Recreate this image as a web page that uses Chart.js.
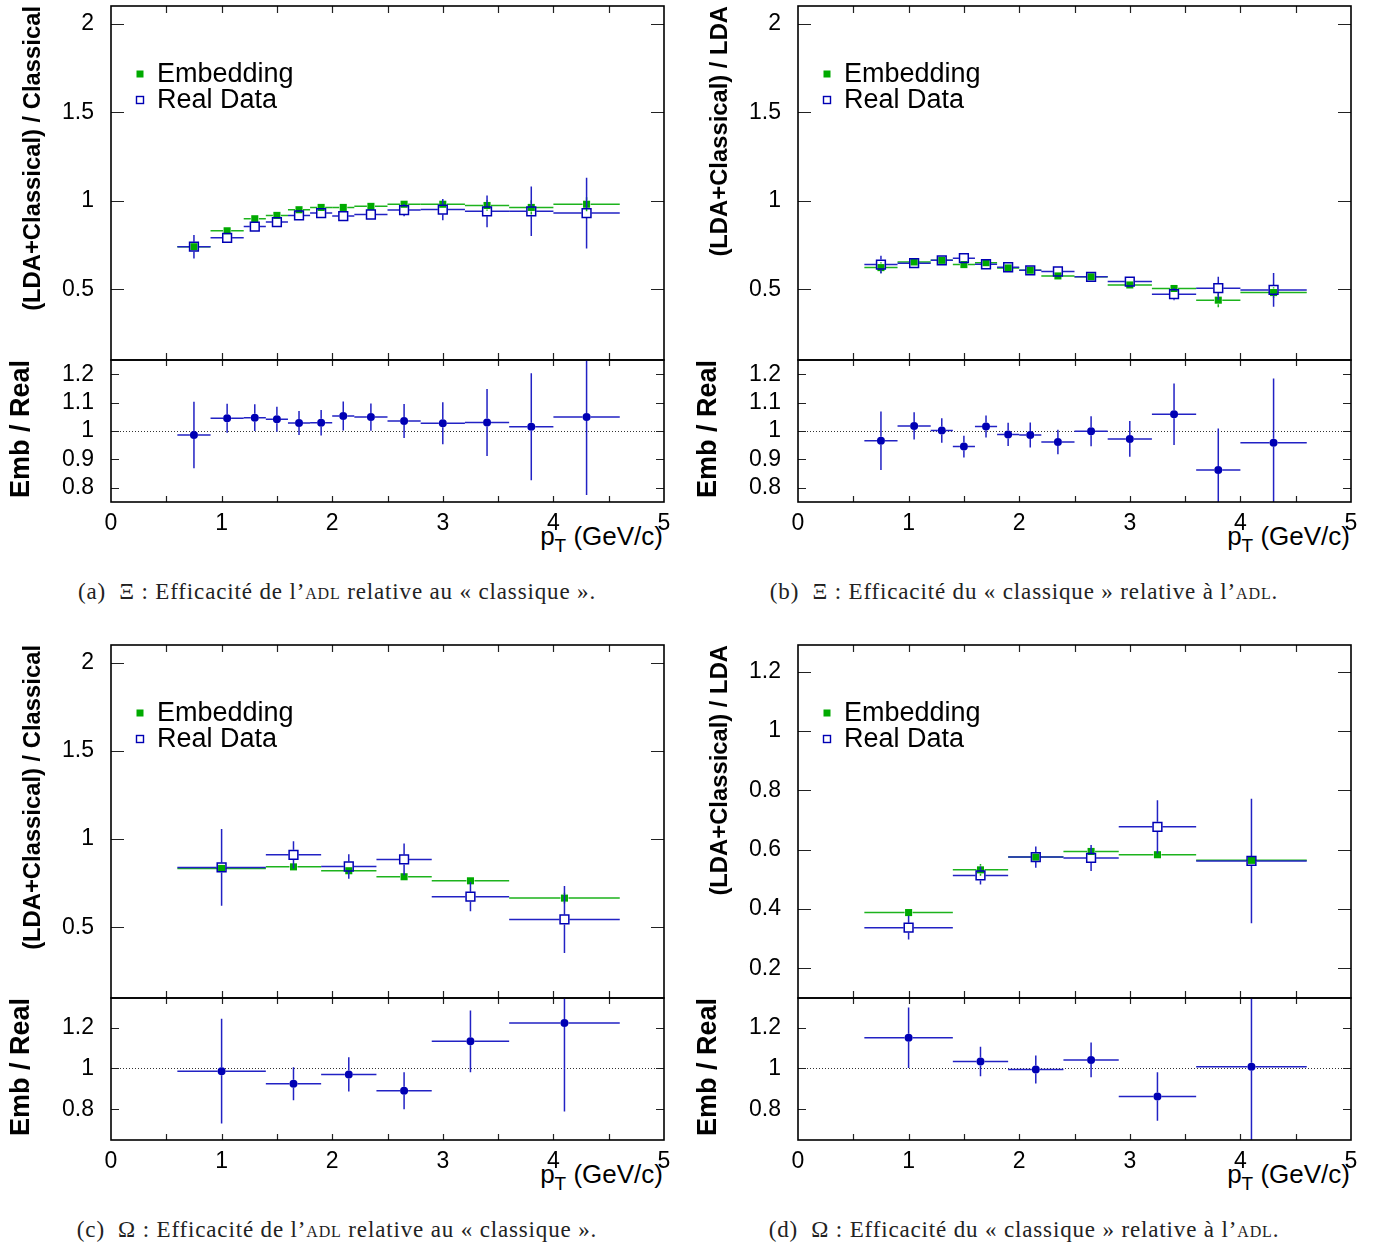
<!DOCTYPE html>
<html>
<head>
<meta charset="utf-8">
<script src="https://cdn.jsdelivr.net/npm/chart.js@4.4.1/dist/chart.umd.min.js"></script>
<style>
	body { margin: 0; background: #fff; width: 1378px; height: 1250px; position: relative; overflow: hidden; font-family: 'Liberation Sans', Arial, sans-serif; }
	canvas { position: absolute; }
	.xt { position: absolute; width: 200px; text-align: right; font-size: 26px; line-height: 26px; white-space: nowrap; color: #000; }
	.xt sub { font-size: 19px; line-height: 0; vertical-align: -7px; }
	.cap { position: absolute; width: 680px; text-align: center; font-family: 'Liberation Serif', 'DejaVu Serif', serif; font-size: 23px; letter-spacing: 0.85px; line-height: 25px; color: #222; white-space: nowrap; }
	.sc { font-variant: small-caps; }
</style>
</head>
<body>

<div class="xt" style="left:463px;top:523px;">p<sub>T</sub> (GeV/c)</div>
<div class="xt" style="left:1150px;top:523px;">p<sub>T</sub> (GeV/c)</div>
<div class="xt" style="left:463px;top:1161px;">p<sub>T</sub> (GeV/c)</div>
<div class="xt" style="left:1150px;top:1161px;">p<sub>T</sub> (GeV/c)</div>

<div class="cap" style="left:-3px;top:579px;">(a)&nbsp; Ξ : Efficacité de l’<span class="sc">adl</span> relative au «&nbsp;classique&nbsp;».</div>
<div class="cap" style="left:684px;top:579px;">(b)&nbsp; Ξ : Efficacité du «&nbsp;classique&nbsp;» relative à l’<span class="sc">adl</span>.</div>
<div class="cap" style="left:-3px;top:1217px;">(c)&nbsp; Ω : Efficacité de l’<span class="sc">adl</span> relative au «&nbsp;classique&nbsp;».</div>
<div class="cap" style="left:684px;top:1217px;">(d)&nbsp; Ω : Efficacité du «&nbsp;classique&nbsp;» relative à l’<span class="sc">adl</span>.</div>

<script>
// ---- data ----
// Xi pT bins (panels a, b)
const xiPt   = [0.75, 1.05, 1.30, 1.50, 1.70, 1.90, 2.10, 2.35, 2.65, 3.00, 3.40, 3.80, 4.30];
const xiLow  = [0.6, 0.9, 1.2, 1.4, 1.6, 1.8, 2.0, 2.2, 2.5, 2.8, 3.2, 3.6, 4.0];
const xiHigh = [0.9, 1.2, 1.4, 1.6, 1.8, 2.0, 2.2, 2.5, 2.8, 3.2, 3.6, 4.0, 4.6];

// Omega pT bins (panels c, d)
const omPt   = [1.00, 1.65, 2.15, 2.65, 3.25, 4.10];
const omLow  = [0.6, 1.4, 1.9, 2.4, 2.9, 3.6];
const omHigh = [1.4, 1.9, 2.4, 2.9, 3.6, 4.6];

// (a) Xi, (LDA+Classical)/Classical
const embA      = [0.74, 0.83, 0.898, 0.917, 0.949, 0.962, 0.962, 0.968, 0.98, 0.98, 0.973, 0.962, 0.98];
const embErrA   = [0.02, 0.012, 0.012, 0.01, 0.01, 0.01, 0.01, 0.012, 0.02, 0.02, 0.03, 0.04, 0.04];
const realA     = [0.74, 0.79, 0.854, 0.879, 0.917, 0.93, 0.913, 0.922, 0.947, 0.95, 0.94, 0.94, 0.93];
const realErrA  = [0.066, 0.02, 0.02, 0.02, 0.02, 0.02, 0.02, 0.02, 0.035, 0.06, 0.09, 0.14, 0.2];
const ratioA    = [0.986, 1.045, 1.047, 1.041, 1.028, 1.029, 1.053, 1.049, 1.035, 1.027, 1.030, 1.015, 1.049];
const ratioErrA = [0.117, 0.051, 0.047, 0.044, 0.042, 0.045, 0.051, 0.048, 0.06, 0.074, 0.118, 0.188, 0.274];

// (b) Xi, (LDA+Classical)/LDA
const embB      = [0.622, 0.654, 0.663, 0.639, 0.65, 0.62, 0.607, 0.575, 0.57, 0.524, 0.504, 0.438, 0.481];
const embErrB   = [0.03, 0.01, 0.01, 0.01, 0.01, 0.01, 0.01, 0.01, 0.01, 0.015, 0.02, 0.04, 0.03];
const realB     = [0.639, 0.647, 0.663, 0.675, 0.641, 0.624, 0.607, 0.60, 0.57, 0.543, 0.472, 0.506, 0.496];
const realErrB  = [0.05, 0.015, 0.015, 0.015, 0.015, 0.015, 0.015, 0.015, 0.015, 0.02, 0.035, 0.065, 0.095];
const ratioB    = [0.966, 1.018, 1.002, 0.945, 1.016, 0.988, 0.986, 0.961, 0.999, 0.972, 1.059, 0.863, 0.959];
const ratioErrB = [0.103, 0.048, 0.043, 0.038, 0.039, 0.041, 0.044, 0.043, 0.053, 0.063, 0.108, 0.146, 0.226];

// (c) Omega, (LDA+Classical)/Classical
const embC      = [0.834, 0.843, 0.821, 0.787, 0.764, 0.666];
const embErrC   = [0.02, 0.01, 0.015, 0.015, 0.015, 0.03];
const realC     = [0.84, 0.911, 0.845, 0.885, 0.674, 0.545];
const realErrC  = [0.217, 0.077, 0.07, 0.09, 0.083, 0.19];
const ratioC    = [0.987, 0.925, 0.971, 0.891, 1.133, 1.223];
const ratioErrC = [0.256, 0.081, 0.084, 0.091, 0.151, 0.434];

// (d) Omega, (LDA+Classical)/LDA
const embD      = [0.388, 0.532, 0.575, 0.594, 0.583, 0.564];
const embErrD   = [0.01, 0.02, 0.01, 0.01, 0.01, 0.01];
const realD     = [0.337, 0.513, 0.575, 0.572, 0.677, 0.562];
const realErrD  = [0.04, 0.03, 0.036, 0.044, 0.09, 0.21];
const ratioD    = [1.15, 1.034, 0.995, 1.042, 0.863, 1.008];
const ratioErrD = [0.148, 0.072, 0.068, 0.085, 0.119, 0.42];

// tick labels
const xTicks        = [0, 1, 2, 3, 4, 5];
const yTicksEff     = [0.5, 1, 1.5, 2];
const yTicksEffD    = [0.2, 0.4, 0.6, 0.8, 1, 1.2];
const yTicksRatioXi = [0.8, 0.9, 1, 1.1, 1.2];
const yTicksRatioOm = [0.8, 1, 1.2];

const seriesNames = ['Embedding', 'Real Data'];

// ---- styles ----
const GREEN = '#00aa00', GREEN_LINE = '#1db31d';
const BLUE = '#0000b4', BLUE_LINE = '#2222c4';
const tickFont = { family: 'Liberation Sans', size: 23 };

Chart.defaults.font.family = 'Liberation Sans';
Chart.defaults.color = '#000';
Chart.defaults.animation = false;

const pts = (xs, ys) => xs.map((x, i) => ({ x: x, y: ys[i] }));
const fmt = v => String(Math.round(v * 100) / 100);

// error bars (ROOT style, with a gap round the marker), frame, inward ticks, legend
const rootStyle = {
	id: 'rootStyle',
	beforeDatasetsDraw(chart, args, o) {
		if (!o.unity) return;
		const { ctx, chartArea: a, scales: { y } } = chart;
		const py = Math.round(y.getPixelForValue(1)) + 0.5;
		ctx.save();
		ctx.strokeStyle = '#333';
		ctx.lineWidth = 1;
		ctx.setLineDash([1, 2]);
		ctx.beginPath();
		ctx.moveTo(a.left, py);
		ctx.lineTo(a.right, py);
		ctx.stroke();
		ctx.restore();
	},
	beforeDatasetDraw(chart, args) {
		const ds = chart.data.datasets[args.index];
		if (!ds.yErr) return;
		const { ctx, chartArea: a, scales: { x, y } } = chart;
		ctx.save();
		ctx.beginPath();
		ctx.rect(a.left, a.top, a.width, a.height);
		ctx.clip();
		ctx.strokeStyle = ds.errColor;
		ctx.lineWidth = 1.5;
		const g = ds.gap;
		ds.data.forEach((p, i) => {
			const px = x.getPixelForValue(p.x), py = y.getPixelForValue(p.y);
			const x0 = x.getPixelForValue(ds.xLow[i]), x1 = x.getPixelForValue(ds.xHigh[i]);
			const yTop = y.getPixelForValue(p.y + ds.yErr[i]), yBot = y.getPixelForValue(p.y - ds.yErr[i]);
			ctx.beginPath();
			if (px - g > x0) { ctx.moveTo(x0, py); ctx.lineTo(px - g, py); }
			if (x1 > px + g) { ctx.moveTo(px + g, py); ctx.lineTo(x1, py); }
			if (py - g > yTop) { ctx.moveTo(px, yTop); ctx.lineTo(px, py - g); }
			if (yBot > py + g) { ctx.moveTo(px, py + g); ctx.lineTo(px, yBot); }
			ctx.stroke();
		});
		ctx.restore();
	},
	afterDraw(chart, args, o) {
		const { ctx, chartArea: a, scales: { x, y } } = chart;
		ctx.save();
		ctx.strokeStyle = '#222';
		ctx.lineWidth = 1.2;
		ctx.beginPath();
		y.ticks.forEach(t => {
			const py = Math.round(y.getPixelForValue(t.value)) + 0.5;
			ctx.moveTo(a.left, py); ctx.lineTo(a.left + o.yTickLen, py);
			ctx.moveTo(a.right, py); ctx.lineTo(a.right - o.yTickLen, py);
		});
		for (let v = x.min + 0.5; v < x.max - 0.01; v += 0.5) {
			const px = Math.round(x.getPixelForValue(v)) + 0.5;
			ctx.moveTo(px, a.top); ctx.lineTo(px, a.top + o.xTickLen);
			ctx.moveTo(px, a.bottom); ctx.lineTo(px, a.bottom - o.xTickLen);
		}
		ctx.stroke();
		ctx.strokeStyle = '#000';
		ctx.lineWidth = 1.6;
		ctx.strokeRect(a.left, a.top, a.width, a.height);

		if (o.legend) {
			const lx = a.left + 29;
			const rows = [a.top + 68, a.top + 94];
			ctx.fillStyle = GREEN;
			ctx.fillRect(lx - 3.5, rows[0] - 3.5, 7, 7);
			ctx.strokeStyle = BLUE;
			ctx.lineWidth = 1.4;
			ctx.strokeRect(lx - 3.5, rows[1] - 3.5, 7, 7);
			ctx.fillStyle = '#000';
			ctx.font = '27px "Liberation Sans"';
			ctx.textBaseline = 'middle';
			ctx.textAlign = 'left';
			seriesNames.forEach((s, i) => ctx.fillText(s, lx + 17, rows[i] + 1));
		}
		ctx.restore();
	}
};

function addCanvas(left, top, w, h) {
	const c = document.createElement('canvas');
	c.width = w;
	c.height = h;
	c.style.left = left + 'px';
	c.style.top = top + 'px';
	c.style.width = w + 'px';
	c.style.height = h + 'px';
	document.body.appendChild(c);
	return c;
}

function yAxis(range, ticks, title, titleSize, titlePad) {
	return {
		type: 'linear', min: range[0], max: range[1],
		afterBuildTicks: s => { s.ticks = ticks.map(v => ({ value: v })); },
		afterFit: s => { s.width = 111; s.paddingTop = 0; s.paddingBottom = 0; },
		grid: { display: false, drawTicks: false },
		border: { display: false },
		ticks: { padding: 17, font: tickFont, color: '#000', callback: fmt },
		title: { display: true, text: title, align: 'end', color: '#000',
			font: { family: 'Liberation Sans', size: titleSize, weight: 'bold' }, padding: { top: titlePad, bottom: 0 } }
	};
}

function makePanel(P) {
	const W = 680;
	// upper pad: efficiencies
	const topH = P.split - P.top + 7;
	new Chart(addCanvas(P.left - 111, P.top - 6, W, topH), {
		type: 'scatter',
		data: {
			datasets: [
				{ label: seriesNames[1], data: pts(P.pt, P.real), xLow: P.lo, xHigh: P.hi, yErr: P.realErr,
					errColor: BLUE_LINE, gap: 5, order: 1, pointStyle: 'rect', pointRadius: 6.2,
					backgroundColor: 'rgba(0,0,0,0)', borderColor: BLUE, borderWidth: 1.5 },
				{ label: seriesNames[0], data: pts(P.pt, P.emb), xLow: P.lo, xHigh: P.hi, yErr: P.embErr,
					errColor: GREEN_LINE, gap: 4, order: 2, pointStyle: 'rect', pointRadius: 5,
					backgroundColor: GREEN, borderWidth: 0 }
			]
		},
		options: {
			responsive: false, events: [],
			layout: { autoPadding: false, padding: { top: 6, bottom: 1, left: 0, right: 16 } },
			scales: {
				x: { type: 'linear', min: 0, max: 5, display: false, ticks: { display: false },
					afterFit: s => { s.height = 0; s.paddingLeft = 0; s.paddingRight = 0; } },
				y: yAxis(P.yRange, P.yTicks, P.yTitle, 23.8, 19)
			},
			plugins: { legend: { display: false }, tooltip: { enabled: false },
				rootStyle: { yTickLen: 13, xTickLen: 7, legend: true, unity: false } }
		},
		plugins: [rootStyle]
	});

	// lower pad: ratio
	const botH = 10 + (P.bottom - P.split) + 40;
	new Chart(addCanvas(P.left - 111, P.split - 10, W, botH), {
		type: 'scatter',
		data: {
			datasets: [
				{ label: 'Emb / Real', data: pts(P.pt, P.ratio), xLow: P.lo, xHigh: P.hi, yErr: P.ratioErr,
					errColor: BLUE_LINE, gap: 4, pointStyle: 'circle', pointRadius: 4,
					backgroundColor: BLUE, borderWidth: 0 }
			]
		},
		options: {
			responsive: false, events: [],
			layout: { autoPadding: false, padding: { top: 10, bottom: 0, left: 0, right: 16 } },
			scales: {
				x: {
					type: 'linear', min: 0, max: 5,
					afterBuildTicks: s => { s.ticks = xTicks.map(v => ({ value: v })); },
					afterFit: s => { s.height = 40; s.paddingLeft = 0; s.paddingRight = 0; },
					grid: { display: false, drawTicks: false },
					border: { display: false },
					ticks: { padding: 8, font: tickFont, color: '#000', autoSkip: false, maxRotation: 0, callback: fmt }
				},
				y: yAxis(P.rRange, P.rTicks, 'Emb / Real', 27, 5)
			},
			plugins: { legend: { display: false }, tooltip: { enabled: false },
				rootStyle: { yTickLen: 8, xTickLen: 6, legend: false, unity: true } }
		},
		plugins: [rootStyle]
	});
}

const panels = [
	{ left: 111, top: 6, split: 360, bottom: 502, pt: xiPt, lo: xiLow, hi: xiHigh,
		emb: embA, embErr: embErrA, real: realA, realErr: realErrA, ratio: ratioA, ratioErr: ratioErrA,
		yRange: [0.1, 2.1], yTicks: yTicksEff, yTitle: '(LDA+Classical) / Classical',
		rRange: [0.75, 1.25], rTicks: yTicksRatioXi },
	{ left: 798, top: 6, split: 360, bottom: 502, pt: xiPt, lo: xiLow, hi: xiHigh,
		emb: embB, embErr: embErrB, real: realB, realErr: realErrB, ratio: ratioB, ratioErr: ratioErrB,
		yRange: [0.1, 2.1], yTicks: yTicksEff, yTitle: '(LDA+Classical) / LDA',
		rRange: [0.75, 1.25], rTicks: yTicksRatioXi },
	{ left: 111, top: 645, split: 998, bottom: 1140, pt: omPt, lo: omLow, hi: omHigh,
		emb: embC, embErr: embErrC, real: realC, realErr: realErrC, ratio: ratioC, ratioErr: ratioErrC,
		yRange: [0.1, 2.1], yTicks: yTicksEff, yTitle: '(LDA+Classical) / Classical',
		rRange: [0.65, 1.345], rTicks: yTicksRatioOm },
	{ left: 798, top: 645, split: 998, bottom: 1140, pt: omPt, lo: omLow, hi: omHigh,
		emb: embD, embErr: embErrD, real: realD, realErr: realErrD, ratio: ratioD, ratioErr: ratioErrD,
		yRange: [0.1, 1.29], yTicks: yTicksEffD, yTitle: '(LDA+Classical) / LDA',
		rRange: [0.65, 1.345], rTicks: yTicksRatioOm }
];

panels.forEach(makePanel);
</script>
</body>
</html>
